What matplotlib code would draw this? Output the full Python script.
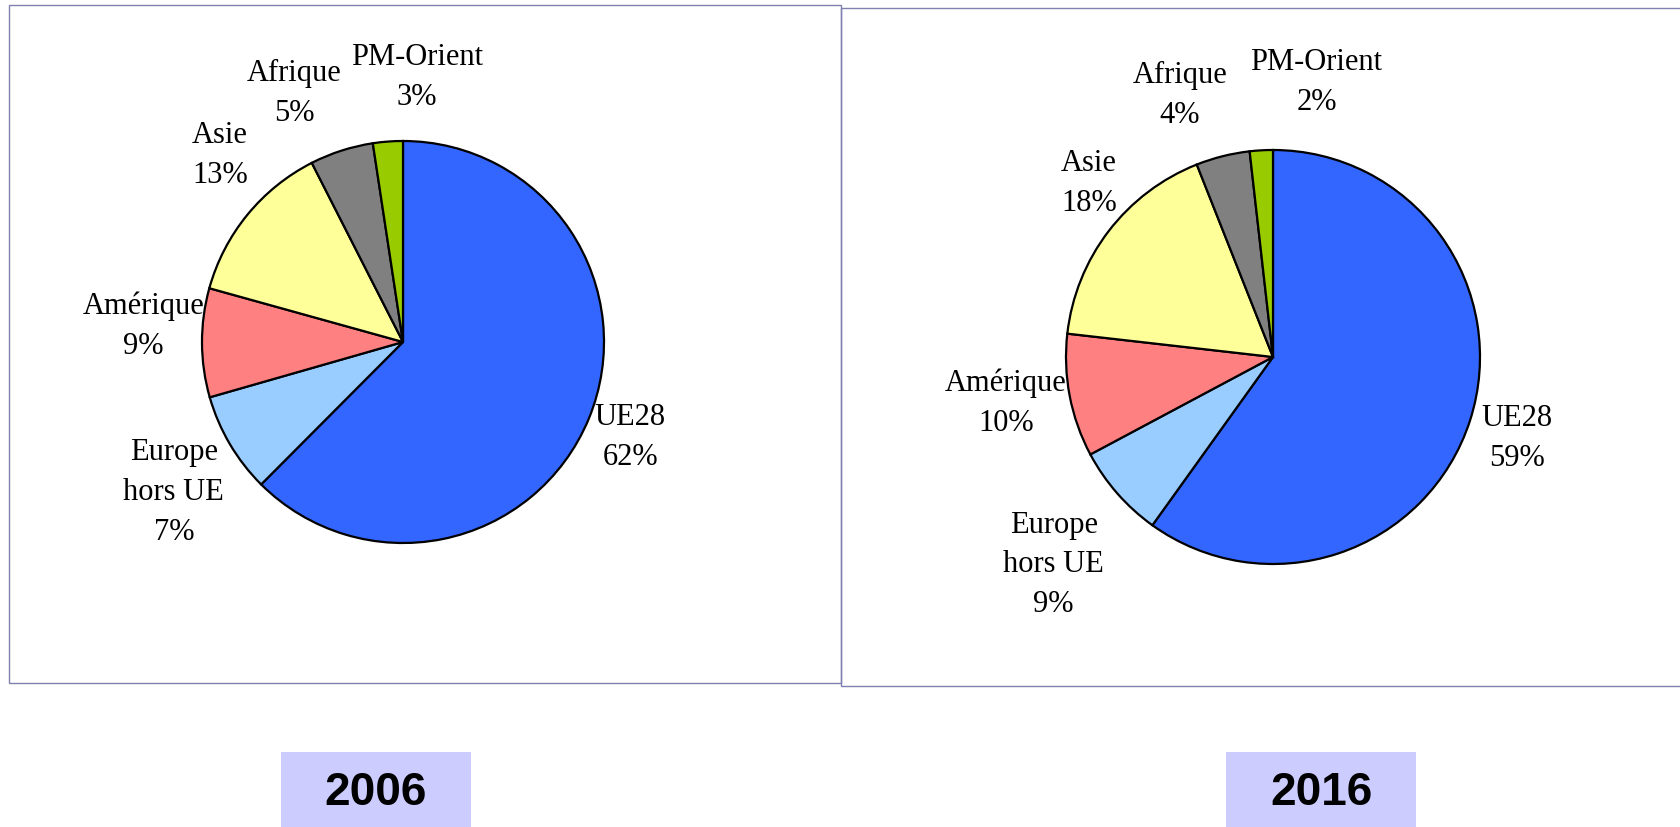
import matplotlib
matplotlib.use("Agg")
import matplotlib.pyplot as plt
from matplotlib.patches import Rectangle

# zones et parts des exportations
zones = ["UE28", "Europe\nhors UE", "Amérique", "Asie", "Afrique", "PM-Orient"]
annees = ["2006", "2016"]

parts_2006 = [62.5, 8.1, 8.75, 13.2, 5.1, 2.4]
parts_2016 = [59.9, 7.3, 9.6, 17.2, 4.2, 1.8]
# pourcentages affichés (arrondis de la source)
etiq_2006 = ["62%", "7%", "9%", "13%", "5%", "3%"]
etiq_2016 = ["59%", "9%", "10%", "18%", "4%", "2%"]

couleurs = ["#3366FF", "#99CCFF", "#FF8080", "#FFFF99", "#808080", "#99CC00"]

# position des étiquettes (en rayons, centre du bloc de texte)
pos_2006 = [(1.13, -0.47), (-1.14, -0.745), (-1.29, 0.085), (-0.91, 0.935), (-0.54, 1.24), (0.07, 1.32)]
pos_2016 = [(1.18, -0.39), (-1.06, -1.0), (-1.29, -0.22), (-0.89, 0.845), (-0.45, 1.27), (0.21, 1.33)]

W, H = 1680, 828
fig = plt.figure(figsize=(W / 100, H / 100), dpi=100)
fig.patch.set_facecolor("white")


def px_axes(cx, cy, r):
    # axes carré centré sur (cx, cy) en pixels depuis le haut
    half = 1.5 * r
    return fig.add_axes([(cx - half) / W, (H - cy - half) / H, 2 * half / W, 2 * half / H])


def camembert(ax, valeurs, etiquettes, positions):
    ax.pie(valeurs, colors=couleurs, startangle=90, counterclock=False,
           wedgeprops=dict(edgecolor="black", linewidth=1.6))
    for nom, pct, (x, y) in zip(zones, etiquettes, positions):
        ax.text(x, y, f"{nom}\n{pct}", ha="center", va="center",
                family="Liberation Serif", fontsize=22, linespacing=1.5)
    ax.set_xlim(-1.5, 1.5)
    ax.set_ylim(-1.5, 1.5)
    ax.set_aspect("equal")
    ax.axis("off")


# cadres
cadre = "#8080B0"
fig.patches.append(Rectangle((9 / W, 1 - 684 / H), 832 / W, 678 / H, transform=fig.transFigure,
                             fill=False, edgecolor=cadre, linewidth=1.0))
fig.patches.append(Rectangle((841 / W, 1 - 687 / H), 845 / W, 678 / H, transform=fig.transFigure,
                             fill=False, edgecolor=cadre, linewidth=1.0))

ax1 = px_axes(403, 343, 201)
camembert(ax1, parts_2006, etiq_2006, pos_2006)
ax2 = px_axes(1273, 358, 207)
camembert(ax2, parts_2016, etiq_2016, pos_2016)

# étiquettes des années
for annee, x0 in zip(annees, [281, 1226]):
    fig.patches.append(Rectangle((x0 / W, 0), 190 / W, 75 / H, transform=fig.transFigure,
                                 facecolor="#CCCCFF", edgecolor="none"))
    fig.text((x0 + 95) / W, 1 - 793 / H, annee, ha="center", va="center",
             family="Liberation Sans", fontweight="bold", fontsize=33)

fig.savefig("out.png", dpi=100)
